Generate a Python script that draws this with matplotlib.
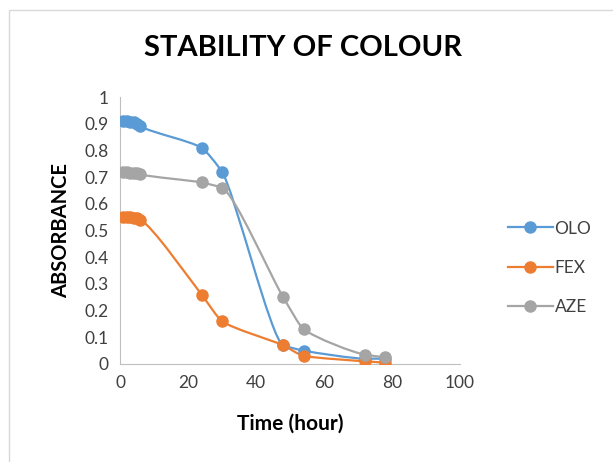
import numpy as np
import matplotlib.pyplot as plt
from matplotlib.path import Path
from matplotlib.patches import PathPatch, Rectangle
from matplotlib.lines import Line2D

plt.rcParams['font.family'] = ['Lato', 'DejaVu Sans']

time_h = [1, 2, 3, 4, 5, 6, 24, 30, 48, 54, 72, 78]
olo = [0.91, 0.91, 0.905, 0.905, 0.90, 0.89, 0.81, 0.72, 0.07, 0.05, 0.02, 0.02]
fex = [0.55, 0.55, 0.55, 0.545, 0.545, 0.54, 0.26, 0.16, 0.07, 0.03, 0.01, 0.005]
aze = [0.72, 0.72, 0.715, 0.715, 0.715, 0.71, 0.68, 0.66, 0.25, 0.13, 0.035, 0.025]

series = [("OLO", olo, "#5B9BD5"), ("FEX", fex, "#ED7D31"), ("AZE", aze, "#A5A5A5")]


def smooth_path(x, y, k_ctrl=0.2):
    # bezier through the points with monotone tangents, kept short so the
    # segments stay nearly straight (like Excel's smoothed line)
    x = np.asarray(x, float)
    y = np.asarray(y, float)
    h = np.diff(x)
    d = np.diff(y) / h
    m = np.zeros_like(y)
    m[0], m[-1] = d[0], d[-1]
    for k in range(1, len(y) - 1):
        if d[k - 1] * d[k] > 0:
            w1 = 2 * h[k] + h[k - 1]
            w2 = h[k] + 2 * h[k - 1]
            m[k] = (w1 + w2) / (w1 / d[k - 1] + w2 / d[k])
    verts = [(x[0], y[0])]
    codes = [Path.MOVETO]
    for i in range(len(x) - 1):
        a = h[i] * k_ctrl
        verts += [(x[i] + a, y[i] + m[i] * a),
                  (x[i + 1] - a, y[i + 1] - m[i + 1] * a),
                  (x[i + 1], y[i + 1])]
        codes += [Path.CURVE4] * 3
    return Path(verts, codes)


fig = plt.figure(figsize=(6.13, 4.62), dpi=100)
fig.patches.append(Rectangle((9 / 613, -0.1), 1.0, 1.1 - 10 / 462, transform=fig.transFigure,
                             fill=False, edgecolor="#D9D9D9", linewidth=1))
ax = fig.add_axes([120 / 613, 1 - 364 / 462, 340 / 613, 267 / 462])

for name, vals, col in series:
    ax.add_patch(PathPatch(smooth_path(time_h, vals), fill=False, edgecolor=col,
                           linewidth=1.6, zorder=2))
    ax.plot(time_h, vals, linestyle="none", marker="o", markersize=8, color=col, zorder=3)

ax.set_xlim(0, 100)
ax.set_ylim(0, 1)
ax.set_xticks(np.arange(0, 101, 20))
ax.set_yticks(np.arange(0, 1.01, 0.1))
ax.set_yticklabels(["0", "0.1", "0.2", "0.3", "0.4", "0.5", "0.6", "0.7", "0.8", "0.9", "1"])
ax.tick_params(length=0, labelsize=12.5, colors="#404040", pad=8)
for s in ["top", "right"]:
    ax.spines[s].set_visible(False)
for s in ["left", "bottom"]:
    ax.spines[s].set_color("#BFBFBF")

ax.set_xlabel("Time (hour)", fontsize=15, fontweight="bold", labelpad=16)
ax.set_ylabel("ABSORBANCE", fontsize=14.5, fontweight="bold", labelpad=10)
fig.text(0.494, 1 - 48 / 462, "STABILITY OF COLOUR", ha="center", va="center",
         fontsize=21, fontweight="bold")

handles = [Line2D([], [], color=c, marker="o", markersize=8, linewidth=1.6) for _, _, c in series]
fig.legend(handles, [n for n, _, _ in series], loc="center left",
           bbox_to_anchor=(492 / 613, 1 - 268 / 462), frameon=False, fontsize=12.5,
           labelspacing=1.35, handlelength=2.6, handletextpad=0.1, labelcolor="#404040")

fig.savefig("out.png", dpi=100)
